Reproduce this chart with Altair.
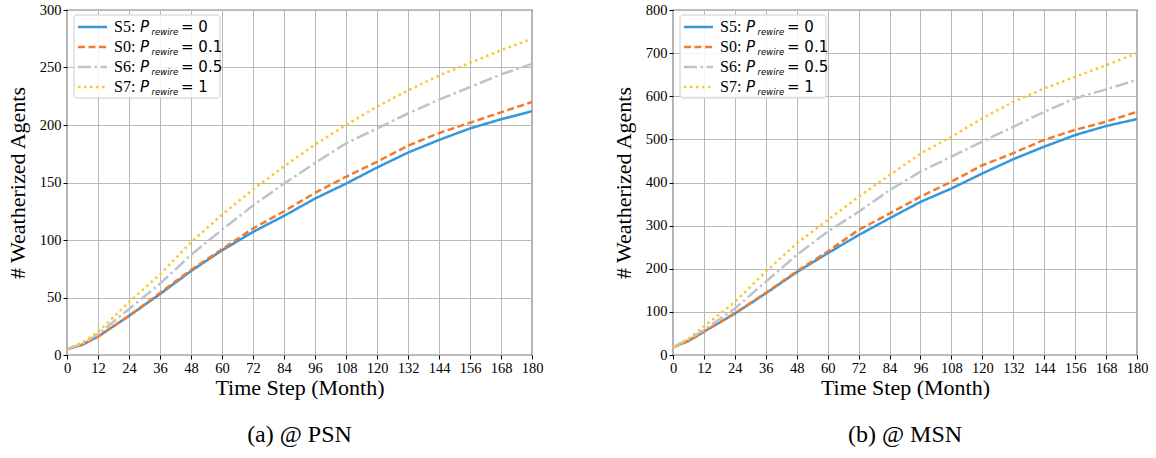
import altair as alt
import pandas as pd

months = [0, 6, 12, 24, 36, 48, 60, 72, 84, 96, 108, 120, 132, 144, 156, 168, 180]
series_names = ["S5", "S0", "S6", "S7"]
p_values = ["0", "0.1", "0.5", "1"]

# (a) @ PSN
psn_s5 = [5, 9, 16, 34, 53, 73, 91, 107, 121, 136, 149, 163, 176, 187, 197, 205, 212]
psn_s0 = [5, 9, 16, 34, 54, 74, 92, 110, 125, 141, 155, 168, 182, 193, 202, 211, 220]
psn_s6 = [5, 10, 18, 40, 62, 87, 109, 130, 149, 167, 184, 197, 210, 222, 233, 244, 253]
psn_s7 = [5, 11, 20, 46, 70, 98, 122, 144, 164, 183, 200, 216, 230, 243, 254, 265, 275]

# (b) @ MSN
msn_s5 = [18, 33, 54, 96, 143, 192, 236, 278, 317, 355, 386, 421, 454, 483, 510, 531, 547]
msn_s0 = [18, 32, 54, 97, 144, 194, 240, 290, 328, 367, 402, 440, 468, 499, 522, 541, 564]
msn_s6 = [18, 36, 58, 108, 170, 232, 286, 332, 382, 425, 460, 495, 529, 564, 595, 616, 638]
msn_s7 = [18, 38, 66, 123, 193, 259, 313, 367, 417, 467, 506, 549, 587, 618, 645, 672, 700]

x_ticks = list(range(0, 181, 12))
psn_y_ticks = [0, 50, 100, 150, 200, 250, 300]
msn_y_ticks = [0, 100, 200, 300, 400, 500, 600, 700, 800]

colors = ["#3498db", "#f37a2b", "#bdc3c7", "#fcc62d"]
dashes = [[1, 0], [7, 3.5], [13, 3.5, 2.5, 3.5], [2.5, 3.5]]

SERIF = "Liberation Serif"
SANS = "DejaVu Sans"


def long_df(vals):
    rows = []
    for name, arr in zip(series_names, vals):
        for m, v in zip(months, arr):
            rows.append({"series": name, "month": m, "value": v})
    return pd.DataFrame(rows)


def panel(vals, yticks, ymax, caption, width):
    df = long_df(vals)
    color = alt.Color("series:N", scale=alt.Scale(domain=series_names, range=colors), legend=None)
    dash = alt.StrokeDash("series:N", scale=alt.Scale(domain=series_names, range=dashes), legend=None)
    x = alt.X("month:Q", scale=alt.Scale(domain=[0, 180], nice=False),
              axis=alt.Axis(values=x_ticks, title="Time Step (Month)", labelOverlap=False,
                            labelFlush=False))
    y = alt.Y("value:Q", scale=alt.Scale(domain=[0, ymax], nice=False),
              axis=alt.Axis(values=yticks, title="# Weatherized Agents", labelOverlap=False,
                            labelFlush=False))
    lines = alt.Chart(df).mark_line(strokeWidth=2.5, clip=True).encode(
        x=x, y=y, color=color, strokeDash=dash, order="month:Q"
    )

    leg = pd.DataFrame({
        "series": series_names,
        "row": [0, 1, 2, 3],
        "name": [s + ":" for s in series_names],
        "eq": ["= " + p for p in p_values],
    })
    ly = alt.Y("row:Q", scale=alt.Scale(domain=[0, 3], range=[17, 77]), axis=None)
    box = alt.Chart(pd.DataFrame({"a": [0]})).mark_rect(
        fill="white", fillOpacity=0.85, stroke="#cccccc", strokeWidth=1, cornerRadius=3
    ).encode(x=alt.value(7), x2=alt.value(153), y=alt.value(5), y2=alt.value(88))
    samples = alt.Chart(leg).mark_rule(strokeWidth=2.5).encode(
        x=alt.value(11), x2=alt.value(40), y=ly, color=color, strokeDash=dash
    )
    t_name = alt.Chart(leg).mark_text(align="left", baseline="middle", font=SERIF, fontSize=16,
                                      color="black").encode(x=alt.value(47), y=ly, text="name:N")
    t_p = alt.Chart(leg).mark_text(align="left", baseline="middle", font=SANS, fontStyle="italic",
                                   fontSize=15, color="black").encode(x=alt.value(73), y=ly, text=alt.value("P"))
    t_sub = alt.Chart(leg).mark_text(align="left", baseline="middle", font=SANS, fontStyle="italic",
                                     fontSize=8.5, dy=5, color="black").encode(x=alt.value(84.5), y=ly, text=alt.value("rewire"))
    t_eq = alt.Chart(leg).mark_text(align="left", baseline="middle", font=SANS, fontSize=15,
                                    color="black").encode(x=alt.value(114), y=ly, text="eq:N")

    return alt.layer(lines, box, samples, t_name, t_p, t_sub, t_eq).resolve_scale(
        y="independent"
    ).properties(
        width=width, height=345,
        title=alt.TitleParams(text=caption, orient="bottom", font=SERIF, fontSize=24,
                              fontWeight="normal", color="black", offset=24),
    )


left = panel([psn_s5, psn_s0, psn_s6, psn_s7], psn_y_ticks, 300, "(a) @ PSN", 465)
right = panel([msn_s5, msn_s0, msn_s6, msn_s7], msn_y_ticks, 800, "(b) @ MSN", 464)

chart = alt.hconcat(left, right, spacing=67).properties(
    padding={"left": 5, "top": 1, "right": 5, "bottom": 5}
).configure_view(
    stroke="black", strokeWidth=1.2
).configure_axis(
    labelFont=SERIF, labelFontSize=14.5, labelColor="black",
    titleFont=SERIF, titleFontSize=22, titleFontWeight="normal", titleColor="black",
    tickColor="black", tickSize=4, domain=False,
    gridColor="#b8b8b8", gridWidth=1,
    labelPadding=2,
).configure_axisY(titlePadding=10).configure_axisX(titlePadding=3)

chart.save("out.html", embed_options={"renderer": "svg", "actions": False})
